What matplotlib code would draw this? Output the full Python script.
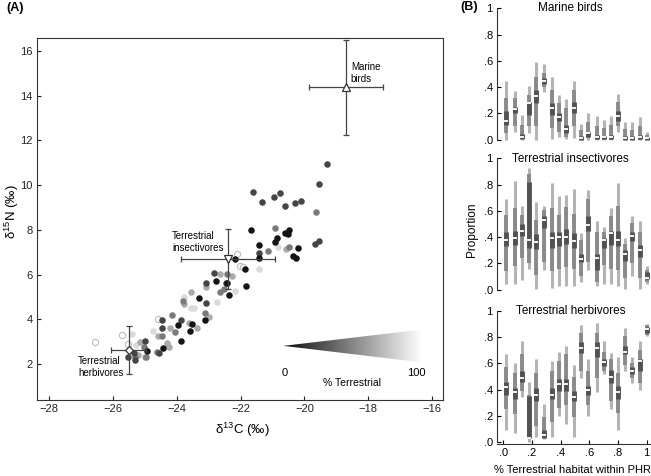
import numpy as np
import matplotlib
matplotlib.use("Agg")
import matplotlib.pyplot as plt
from matplotlib.patches import Polygon
from matplotlib.ticker import FuncFormatter

plt.rcParams['font.family'] = ['Liberation Sans', 'DejaVu Sans']
plt.rcParams['axes.linewidth'] = 0.8
plt.rcParams['mathtext.default'] = 'regular'

# ---------------- Panel A data ----------------
d13c = [-21.62, -21.34, -20.97, -20.78, -20.61, -20.29, -20.11, -19.56, -19.28, -19.64,
        -21.68, -20.93, -20.47, -20.60, -20.51, -20.85, -21.41, -20.91, -21.13, -20.84,
        -20.47, -20.58, -20.21, -20.35, -20.27, -21.41, -21.41, -19.67, -19.54, -21.41,
        -22.19, -22.12, -22.02, -21.94, -21.86,
        -22.83, -22.64, -22.43, -22.26, -23.09, -22.77, -22.45, -23.08, -22.64, -22.51,
        -22.43, -22.38, -22.17, -21.84, -23.55, -23.76, -23.29, -23.09, -22.73, -23.82,
        -23.79, -23.56, -23.45, -23.13, -23.11, -23.00, -23.37, -23.53, -23.58, -23.86,
        -23.95, -23.86, -24.14, -24.05, -24.21, -23.63, -24.47, -24.46, -24.46, -24.42,
        -24.58, -24.58, -24.75, -24.31, -24.25, -24.56, -24.63, -24.94, -24.99, -24.97,
        -25.02, -25.21, -25.35, -25.31, -25.30, -25.52, -25.27, -25.15, -25.52, -25.72,
        -26.56, -25.40, -25.00]
d15n = [9.68, 9.23, 9.47, 9.66, 9.07, 9.19, 9.30, 10.07, 10.93, 8.79,
        8.01, 8.07, 7.99, 7.88, 7.82, 7.62, 7.32, 7.44, 7.07, 7.22,
        7.22, 7.13, 7.20, 6.83, 6.76, 6.95, 6.73, 7.36, 7.52, 6.25,
        6.70, 6.91, 6.38, 6.33, 6.24,
        6.06, 6.01, 6.01, 5.94, 5.65, 5.71, 5.64, 5.43, 5.23, 5.34,
        5.61, 5.09, 5.28, 5.50, 5.23, 5.01, 4.97, 4.72, 4.79, 4.82,
        4.70, 4.49, 4.49, 4.27, 3.97, 4.12, 3.60, 3.78, 3.48, 3.97,
        3.75, 3.03, 4.19, 3.45, 3.64, 3.82, 3.97, 3.60, 3.27, 2.71,
        4.00, 3.25, 3.50, 2.97, 2.75, 2.52, 2.56, 2.59, 3.04, 2.33,
        2.78, 2.42, 2.52, 2.21, 2.30, 2.33, 2.85, 3.00, 2.90, 3.30,
        3.00, 3.35, 2.30]
# 0 = 0% terrestrial (black) ... 5 = 100% terrestrial (open)
shade = [1, 1, 1, 1, 1, 1, 1, 1, 1, 2,
         0, 2, 0, 0, 0, 0, 0, 0, 2, 4,
         2, 3, 0, 0, 0, 1, 0, 1, 1, 4,
         0, 5, 5, 5, 0,
         1, 3, 2, 3, 1, 0, 1, 3, 2, 2,
         0, 0, 4, 0, 3, 4, 0, 1, 4, 2,
         3, 4, 4, 2, 0, 3, 3, 0, 0, 1,
         0, 0, 2, 2, 3, 3, 1, 1, 2, 0,
         5, 3, 4, 3, 3, 1, 2, 0, 1, 2,
         2, 3, 1, 1, 2, 1, 4, 3, 5, 5,
         5, 4, 3]
shade_colors = ['#141414', '#454545', '#7a7a7a', '#ababab', '#dadada', '#ffffff']

groups = ['Marine\nbirds', 'Terrestrial\ninsectivores', 'Terrestrial\nherbivores']
group_c = [-18.70, -22.39, -25.50]
group_n = [14.38, 6.69, 2.62]
group_c_err = [1.17, 1.47, 0.55]
group_n_err = [2.12, 1.35, 1.07]
group_markers = ['^', 'v', 'D']

# ---------------- Panel B data ----------------
habitat = [0.02, 0.08, 0.13, 0.18, 0.23, 0.28, 0.34, 0.39, 0.44, 0.49,
           0.54, 0.59, 0.65, 0.70, 0.75, 0.80, 0.85, 0.90, 0.95, 1.00]

marine_lo95 = [0.0, 0.06, 0.0, 0.05, 0.0, 0.36, 0.005, 0.02, 0.005, 0.01, 0.0, 0.0, 0.0, 0.0, 0.0, 0.06, 0.0, 0.0, 0.0, 0.0]
marine_hi95 = [0.45, 0.37, 0.19, 0.41, 0.59, 0.58, 0.48, 0.34, 0.31, 0.45, 0.12, 0.20, 0.18, 0.15, 0.18, 0.35, 0.13, 0.13, 0.17, 0.06]
marine_lo75 = [0.05, 0.10, 0.01, 0.10, 0.10, 0.40, 0.09, 0.06, 0.02, 0.10, 0.0, 0.01, 0.0, 0.0, 0.0, 0.10, 0.0, 0.0, 0.0, 0.0]
marine_hi75 = [0.32, 0.32, 0.11, 0.34, 0.48, 0.51, 0.38, 0.28, 0.24, 0.38, 0.07, 0.13, 0.10, 0.09, 0.11, 0.29, 0.08, 0.07, 0.10, 0.035]
marine_lo50 = [0.11, 0.20, 0.005, 0.19, 0.28, 0.42, 0.19, 0.14, 0.05, 0.20, 0.0, 0.02, 0.005, 0.005, 0.005, 0.14, 0.0, 0.0, 0.005, 0.0]
marine_hi50 = [0.22, 0.25, 0.04, 0.29, 0.38, 0.47, 0.28, 0.20, 0.11, 0.29, 0.025, 0.06, 0.035, 0.03, 0.035, 0.22, 0.03, 0.025, 0.035, 0.02]
marine_med = [0.14, 0.23, 0.02, 0.28, 0.33, 0.45, 0.24, 0.17, 0.08, 0.24, 0.015, 0.05, 0.02, 0.02, 0.02, 0.18, 0.015, 0.015, 0.02, 0.01]

insect_lo95 = [0.04, 0.04, 0.07, 0.16, 0.005, 0.15, 0.01, 0.03, 0.03, 0.03, 0.06, 0.15, 0.03, 0.04, 0.04, 0.03, 0.005, 0.10, 0.005, 0.04]
insect_hi95 = [0.69, 0.83, 0.64, 0.93, 0.67, 0.64, 0.81, 0.71, 0.72, 0.77, 0.43, 0.76, 0.52, 0.48, 0.62, 0.81, 0.39, 0.56, 0.52, 0.18]
insect_lo75 = [0.14, 0.18, 0.24, 0.20, 0.11, 0.21, 0.14, 0.16, 0.17, 0.16, 0.10, 0.21, 0.06, 0.19, 0.16, 0.15, 0.09, 0.20, 0.09, 0.06]
insect_hi75 = [0.57, 0.62, 0.57, 0.88, 0.53, 0.61, 0.62, 0.57, 0.63, 0.58, 0.38, 0.69, 0.44, 0.44, 0.56, 0.64, 0.35, 0.51, 0.44, 0.15]
insect_lo50 = [0.33, 0.34, 0.41, 0.32, 0.31, 0.47, 0.32, 0.33, 0.35, 0.32, 0.21, 0.45, 0.15, 0.32, 0.34, 0.33, 0.22, 0.37, 0.25, 0.08]
insect_hi50 = [0.44, 0.45, 0.50, 0.82, 0.42, 0.56, 0.44, 0.44, 0.46, 0.43, 0.27, 0.56, 0.27, 0.39, 0.45, 0.45, 0.30, 0.44, 0.34, 0.13]
insect_med = [0.38, 0.39, 0.45, 0.38, 0.36, 0.53, 0.39, 0.40, 0.40, 0.37, 0.23, 0.49, 0.24, 0.38, 0.43, 0.38, 0.27, 0.41, 0.30, 0.09]

herb_lo95 = [0.09, 0.07, 0.34, 0.0, 0.035, 0.02, 0.035, 0.20, 0.14, 0.035, 0.49, 0.20, 0.38, 0.52, 0.25, 0.09, 0.54, 0.45, 0.40, 0.81]
herb_hi95 = [0.67, 0.60, 0.77, 0.46, 0.63, 0.29, 0.62, 0.69, 0.73, 0.59, 0.89, 0.63, 0.91, 0.77, 0.68, 0.65, 0.87, 0.65, 0.77, 0.90]
herb_lo75 = [0.25, 0.21, 0.39, 0.02, 0.12, 0.03, 0.15, 0.26, 0.28, 0.19, 0.54, 0.28, 0.49, 0.54, 0.31, 0.22, 0.59, 0.49, 0.45, 0.82]
herb_hi75 = [0.57, 0.53, 0.67, 0.36, 0.53, 0.19, 0.54, 0.62, 0.67, 0.50, 0.83, 0.54, 0.83, 0.69, 0.63, 0.53, 0.81, 0.60, 0.70, 0.89]
herb_lo50 = [0.36, 0.33, 0.46, 0.03, 0.31, 0.03, 0.33, 0.39, 0.39, 0.31, 0.68, 0.36, 0.65, 0.58, 0.45, 0.33, 0.67, 0.52, 0.54, 0.83]
herb_hi50 = [0.46, 0.41, 0.54, 0.35, 0.41, 0.09, 0.41, 0.48, 0.48, 0.39, 0.76, 0.43, 0.76, 0.63, 0.55, 0.43, 0.73, 0.57, 0.63, 0.88]
herb_med = [0.42, 0.38, 0.49, 0.03, 0.36, 0.05, 0.36, 0.44, 0.44, 0.34, 0.72, 0.40, 0.72, 0.61, 0.50, 0.38, 0.69, 0.54, 0.62, 0.86]

panel_titles = ['Marine birds', 'Terrestrial insectivores', 'Terrestrial herbivores']
panel_series = [
    (marine_lo95, marine_hi95, marine_lo75, marine_hi75, marine_lo50, marine_hi50, marine_med),
    (insect_lo95, insect_hi95, insect_lo75, insect_hi75, insect_lo50, insect_hi50, insect_med),
    (herb_lo95, herb_hi95, herb_lo75, herb_hi75, herb_lo50, herb_hi50, herb_med),
]
prop_ticks = [0.0, 0.2, 0.4, 0.6, 0.8, 1.0]

# ---------------- Figure ----------------
W, H = 651, 476
fig = plt.figure(figsize=(W / 100, H / 100), dpi=100)

def fx(px):
    return px / W

def fy(py):
    return 1 - py / H

# Panel A
axA = fig.add_axes([fx(37), fy(400), fx(406), 362 / H])
axA.set_xlim(-28.38, -15.66)
axA.set_ylim(0.4, 16.58)
for sp in axA.spines.values():
    sp.set_color('#333333')
axA.tick_params(direction='in', length=3, width=0.8, labelsize=8, colors='#222222', pad=3)
axA.set_xticks([-28, -26, -24, -22, -20, -18, -16])
axA.set_yticks([2, 4, 6, 8, 10, 12, 14, 16])
axA.xaxis.set_major_formatter(FuncFormatter(lambda v, p: f'{int(v)}'.replace('-', '\u2212')))

d13c_a = np.array(d13c)
d15n_a = np.array(d15n)
shade_a = np.array(shade)
for k in [5, 4, 3, 2, 1, 0]:
    m = shade_a == k
    if k == 5:
        axA.scatter(d13c_a[m], d15n_a[m], s=20, facecolor='white', edgecolor='#bdbdbd',
                    linewidth=0.8, zorder=2)
    else:
        axA.scatter(d13c_a[m], d15n_a[m], s=22, color=shade_colors[k], linewidth=0, zorder=2 + (5 - k) * 0.01)

for i in range(3):
    axA.errorbar(group_c[i], group_n[i], xerr=group_c_err[i], yerr=group_n_err[i],
                 fmt='none', ecolor='#444444', elinewidth=0.9, capsize=2.5, capthick=0.9, zorder=4)
    axA.plot(group_c[i], group_n[i], marker=group_markers[i], ms=6 if i < 2 else 4.5,
             mfc='white', mec='#333333', mew=0.9, ls='none', zorder=5)

axA.text(-18.55, 15.0, groups[0], fontsize=7, ha='left', va='center', linespacing=1.25)
axA.text(-24.15, 7.46, groups[1], fontsize=7, ha='left', va='center', linespacing=1.25)
axA.text(-27.09, 1.89, groups[2], fontsize=7, ha='left', va='center', linespacing=1.25)

# gradient triangle legend
tri = Polygon([(-20.66, 2.82), (-16.32, 3.55), (-16.32, 2.08)], closed=True,
              facecolor='none', edgecolor='none')
axA.add_patch(tri)
grad = np.linspace(0.05, 1.0, 256).reshape(1, -1)
im = axA.imshow(grad, cmap='gray', vmin=0, vmax=1, extent=[-20.66, -16.32, 2.08, 3.55],
                aspect='auto', interpolation='bilinear', zorder=1)
im.set_clip_path(tri)
axA.set_xlim(-28.38, -15.66)
axA.set_ylim(0.4, 16.58)
axA.text(-20.61, 1.6, '0', fontsize=8, ha='center', va='center')
axA.text(-16.50, 1.6, '100', fontsize=8, ha='center', va='center')
axA.text(-18.52, 1.17, '% Terrestrial', fontsize=7.5, ha='center', va='center')

fig.text(fx(242), fy(430), r'$\delta^{13}$C (‰)', fontsize=9.5, ha='center', va='center')
fig.text(fx(12), fy(212), r'$\delta^{15}$N (‰)', fontsize=9.5, ha='center', va='center', rotation=90)
fig.text(fx(15), fy(8), '(A)', fontsize=9, fontweight='bold', ha='center', va='center')
fig.text(fx(469), fy(7), '(B)', fontsize=9, fontweight='bold', ha='center', va='center')

# Panel B
zeros_px = [139.5, 289.5, 442.0]
ppu = 131.0
prop_fmt = FuncFormatter(lambda v, p: '1' if abs(v - 1) < 1e-9 else ('%.1f' % v).lstrip('0'))
for i in range(3):
    y0 = zeros_px[i]
    bottom_px = y0 + 0.015 * ppu
    top_px = y0 - 1.0 * ppu
    ax = fig.add_axes([fx(497), fy(bottom_px), fx(154), (bottom_px - top_px) / H])
    ax.set_xlim(-0.045, 1.03)
    ax.set_ylim(-0.015, 1.0)
    ax.patch.set_alpha(0)
    ax.spines['top'].set_visible(False)
    ax.spines['right'].set_visible(False)
    ax.spines['left'].set_bounds(0, 1)
    ax.spines['left'].set_color('#333333')
    ax.set_yticks(prop_ticks)
    ax.yaxis.set_major_formatter(prop_fmt)
    ax.tick_params(axis='y', direction='in', length=3, width=0.8, labelsize=8, pad=3)
    lo95, hi95, lo75, hi75, lo50, hi50, med = panel_series[i]
    ax.vlines(habitat, lo95, hi95, colors='#b4b4b4', lw=2.2, zorder=2)
    ax.vlines(habitat, lo75, hi75, colors='#8a8a8a', lw=2.8, zorder=3)
    ax.vlines(habitat, lo50, hi50, colors='#525252', lw=3.5, zorder=4)
    ax.plot(habitat, med, ls='none', marker='_', ms=2.6, mew=1.3, color='white', zorder=5)
    ax.text(0.47, 1.0, panel_titles[i], fontsize=8.5, ha='center', va='center', clip_on=False)
    if i < 2:
        ax.spines['bottom'].set_visible(False)
        ax.set_xticks([])
    else:
        ax.spines['bottom'].set_color('#333333')
        ax.set_xticks(prop_ticks)
        ax.xaxis.set_major_formatter(prop_fmt)
        ax.tick_params(axis='x', direction='in', length=3, width=0.8, labelsize=8, pad=3)

fig.text(fx(472), fy(230), 'Proportion', fontsize=8.5, rotation=90, ha='center', va='center')
fig.text(fx(572), fy(470), '% Terrestrial habitat within PHR', fontsize=8, ha='center', va='center')

fig.savefig('out.png', dpi=100)
